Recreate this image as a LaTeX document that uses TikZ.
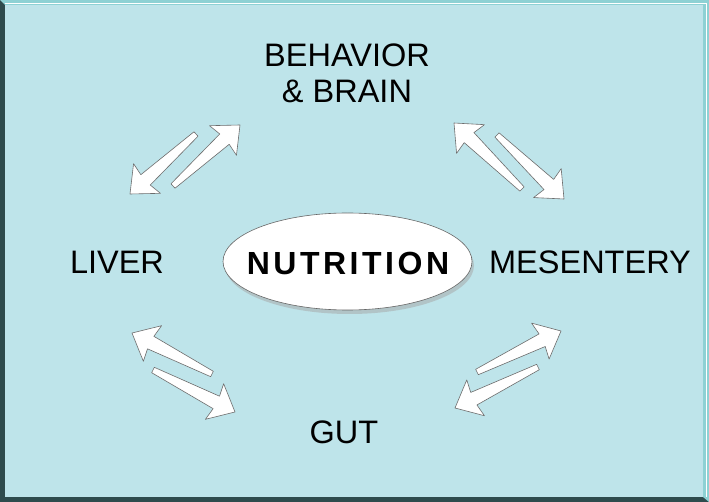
\documentclass[tikz,border=0pt]{standalone}
\usepackage{fontspec}
\setmainfont{Liberation Sans}
\newfontfamily\widefont[LetterSpace=11]{Liberation Sans}
\usetikzlibrary{calc,shadows}
\definecolor{panel}{HTML}{BEE4EA}
\definecolor{frame}{HTML}{2E4B4D}
\definecolor{bevel}{HTML}{8ED1D4}
\newcommand\fatarrow[2]{%
\coordinate (hb) at ($(#2)!21pt!(#1)$);
\coordinate (hw) at ($(#2)!23pt!(#1)$);
\filldraw[fat] ($(#1)!3pt!90:(#2)$) -- ($(hb)!7pt!90:(#2)$) -- ($(hw)!20pt!90:(#2)$) -- (#2)
  -- ($(hw)!20pt!-90:(#2)$) -- ($(hb)!7pt!-90:(#2)$) -- ($(#1)!3pt!-90:(#2)$) -- cycle;}
\begin{document}
\begin{tikzpicture}[x=1pt,y=-1pt,
  organ/.style={font=\fontsize{32.5}{36}\selectfont,text=black},
  fat/.style={fill=white,draw=gray!85!black,line width=0.6pt,line join=round}]
\useasboundingbox (0,0) rectangle (709,502);
\fill[frame] (0,0) rectangle (709,502);
\fill[bevel] (0,0) -- (709,0) -- (709,502) -- (703,497) -- (703,5) -- (5,5) -- cycle;
\draw[white,line width=0.8pt] (5,3) -- (706,3) -- (706,497);
\fill[panel] (5,5) rectangle (703,497);

\filldraw[fill=white,draw=gray!80!black,line width=0.6pt,
  drop shadow={shadow xshift=2pt,shadow yshift=-4pt,fill=gray!70,opacity=.5}]
  (347.5,261.5) ellipse (124.5pt and 48.5pt);
\node[anchor=base,inner sep=0pt] (nutrition) at (348,275)
  {\fontsize{32}{36}\selectfont\widefont\bfseries NUTRITION};
\node[organ,align=center] (brain) at (347,73) {BEHAVIOR\\\& BRAIN};
\node[organ,anchor=base] (liver) at (117,274) {LIVER};
\node[organ,anchor=base] (mesentery) at (590,274) {MESENTERY};
\node[organ,anchor=base] (gut) at (344,443) {GUT};

\coordinate (bl1) at (196,134); \coordinate (bl2) at (130,194);
\coordinate (lb1) at (173,186); \coordinate (lb2) at (240,125);
\coordinate (mb1) at (522,189); \coordinate (mb2) at (454,123);
\coordinate (bm1) at (497,135); \coordinate (bm2) at (564,199);
\coordinate (gl1) at (212,374); \coordinate (gl2) at (132,333);
\coordinate (lg1) at (153,370); \coordinate (lg2) at (235,412);
\coordinate (gm1) at (477,372); \coordinate (gm2) at (561,331);
\coordinate (mg1) at (538,367); \coordinate (mg2) at (455,408);
\fatarrow{bl1}{bl2}
\fatarrow{lb1}{lb2}
\fatarrow{mb1}{mb2}
\fatarrow{bm1}{bm2}
\fatarrow{gl1}{gl2}
\fatarrow{lg1}{lg2}
\fatarrow{gm1}{gm2}
\fatarrow{mg1}{mg2}
\end{tikzpicture}
\end{document}
